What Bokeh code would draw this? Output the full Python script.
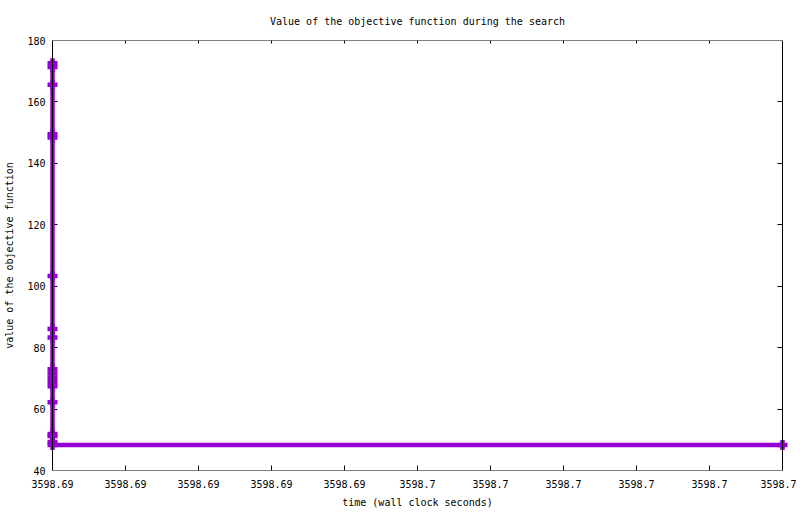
from bokeh.plotting import figure
from bokeh.models import Range1d, FixedTicker, CustomJSTickFormatter, BoxAnnotation
from bokeh.embed import file_html
from bokeh.resources import INLINE

# ---- data ----
TIME = [3598.6925, 3598.6925, 3598.6925, 3598.6925, 3598.6925, 3598.6925,
        3598.6925, 3598.6925, 3598.6925, 3598.6925, 3598.6925, 3598.6925,
        3598.6925, 3598.6925, 3598.6925, 3598.6925, 3598.6925, 3598.6925,
        3598.6975]
OBJECTIVE = [172.6, 171.4, 165.6, 149.5, 148.4, 103.3, 86.1, 83.3, 73.0,
             71.6, 70.2, 68.8, 67.4, 62.2, 51.9, 51.2, 49.3, 48.3, 48.3]

X_TICKS = [3598.6925, 3598.693, 3598.6935, 3598.694, 3598.6945, 3598.695,
           3598.6955, 3598.696, 3598.6965, 3598.697, 3598.6975]
X_TICK_LABELS = ["3598.69", "3598.69", "3598.69", "3598.69", "3598.69",
                 "3598.7", "3598.7", "3598.7", "3598.7", "3598.7", "3598.7"]
Y_TICKS = [40, 60, 80, 100, 120, 140, 160, 180]

TITLE = "Value of the objective function during the search"
X_LABEL = "time (wall clock seconds)"
Y_LABEL = "value of the objective function"

FONT = "DejaVu Sans Mono"
PURPLE = "#9400D3"

# ---- layout (pixels) ----
W, H = 796, 510
B_LEFT, B_RIGHT, B_TOP, B_BOTTOM = 45, 7, 40, 38
PAD_PX = 7            # frame extends beyond the data box so end markers are not clipped
TICK = 5
FRAME_W = W - B_LEFT - B_RIGHT
FRAME_H = H - B_TOP - B_BOTTOM
BOX_W = FRAME_W - 2 * PAD_PX

x0, x1 = X_TICKS[0], X_TICKS[-1]
pad = PAD_PX * (x1 - x0) / BOX_W

p = figure(width=W, height=H, output_backend="svg", toolbar_location=None,
           x_range=Range1d(x0 - pad, x1 + pad),
           y_range=Range1d(Y_TICKS[0], Y_TICKS[-1]),
           min_border_left=B_LEFT, min_border_right=B_RIGHT,
           min_border_top=B_TOP, min_border_bottom=B_BOTTOM,
           title=TITLE)

p.background_fill_color = "white"
p.border_fill_color = "white"
p.outline_line_color = None

p.title.text_font = FONT
p.title.text_font_size = "10px"
p.title.text_font_style = "normal"
p.title.text_color = "black"
p.title.align = "center"
p.title.standoff = 27

fmt = CustomJSTickFormatter(args=dict(xt=X_TICKS, labels=X_TICK_LABELS), code="""
let best = 0, bd = Infinity;
for (let i = 0; i < xt.length; i++) {
  const d = Math.abs(tick - xt[i]);
  if (d < bd) { bd = d; best = i; }
}
return labels[best];
""")

xax = p.below[0]
yax = p.left[0]
xax.ticker = FixedTicker(ticks=X_TICKS)
xax.formatter = fmt
yax.ticker = FixedTicker(ticks=Y_TICKS)
xax.axis_label = X_LABEL
yax.axis_label = Y_LABEL

for ax in (xax, yax):
    ax.major_tick_in = 0
    ax.major_tick_out = 0
    ax.major_tick_line_color = None
    ax.minor_tick_line_color = None
    ax.axis_line_color = None
    ax.major_label_text_font = FONT
    ax.major_label_text_font_size = "10px"
    ax.major_label_text_color = "black"
    ax.axis_label_text_font = FONT
    ax.axis_label_text_font_size = "10px"
    ax.axis_label_text_font_style = "normal"
    ax.axis_label_text_color = "black"

xax.major_label_standoff = 9
xax.axis_label_standoff = 6
yax.major_label_standoff = 0
yax.axis_label_standoff = 9

# gnuplot-style inward ticks on all four sides, drawn with dashed grid lines
p.xgrid.ticker = FixedTicker(ticks=X_TICKS)
p.xgrid.grid_line_color = "black"
p.xgrid.grid_line_width = 1
p.xgrid.grid_line_dash = f"{TICK} {FRAME_H - 2 * TICK} {TICK}"
p.ygrid.ticker = FixedTicker(ticks=Y_TICKS)
p.ygrid.grid_line_color = "black"
p.ygrid.grid_line_width = 1
p.ygrid.grid_line_dash = f"0 {PAD_PX} {TICK} {BOX_W - 2 * TICK} {TICK} {PAD_PX}"

p.line(TIME, OBJECTIVE, line_color=PURPLE, line_width=4.5)
p.scatter(TIME, OBJECTIVE, marker="cross", size=10, line_color=PURPLE,
          line_width=4.5)

# plot border box at the data limits
p.add_layout(BoxAnnotation(left=x0, right=x1, bottom=Y_TICKS[0], top=Y_TICKS[-1],
                           fill_color=None, fill_alpha=0,
                           line_color="black", line_alpha=1, line_width=1))

open("out.html", "w").write(file_html(p, INLINE))
